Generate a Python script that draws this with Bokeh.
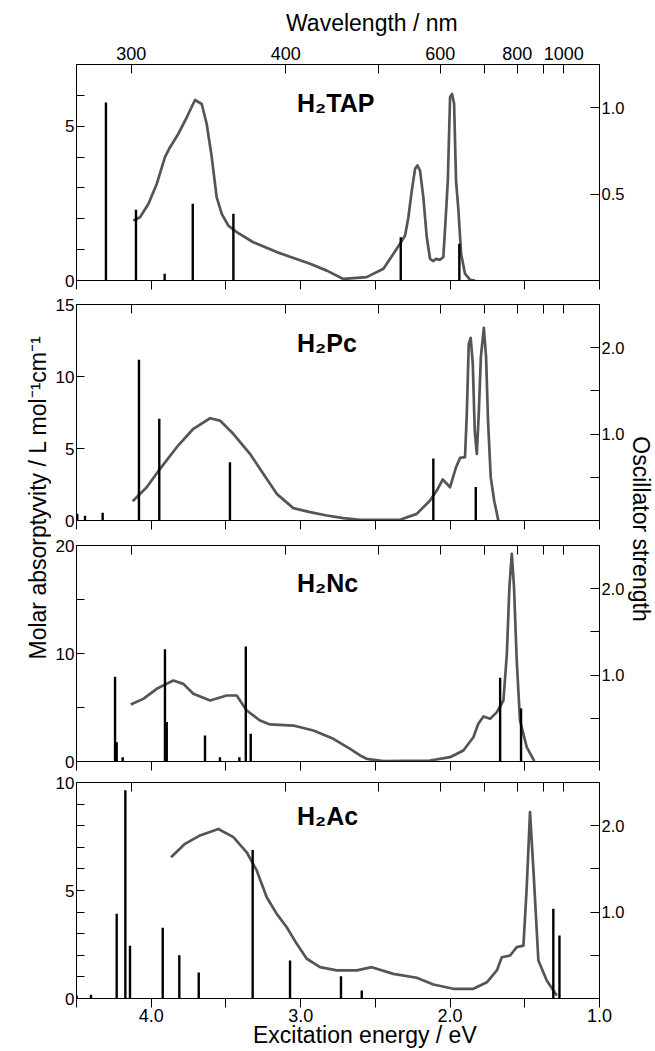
from math import pi
from bokeh.plotting import figure
from bokeh.models import Range1d, LinearAxis, FixedTicker, Label, Title, PrintfTickFormatter
from bokeh.layouts import row, column
from bokeh.embed import file_html
from bokeh.resources import INLINE

FONT = "Liberation Sans"
HC = 1239.84  # eV*nm

# ---------------- axis ticks ----------------
energy_major = [4.0, 3.0, 2.0, 1.0]
energy_minor = [4.5, 3.5, 2.5, 1.5]
wavelength_major = [300, 400, 600, 800, 1000]
wavelength_minor = [500, 700, 900]

# ---------------- H2TAP ----------------
tap_E = [4.120, 4.075, 4.019, 3.963, 3.908, 3.874, 3.819, 3.762, 3.707, 3.662, 3.629,
         3.595, 3.562, 3.528, 3.484, 3.428, 3.317, 3.160, 2.937, 2.825, 2.714, 2.669,
         2.558, 2.446, 2.380, 2.335, 2.301, 2.279, 2.256, 2.234, 2.219, 2.201, 2.179,
         2.156, 2.134, 2.112, 2.094, 2.067, 2.045, 2.029, 2.015, 2.000, 1.987, 1.973,
         1.960, 1.944, 1.926, 1.900, 1.866, 1.833]
tap_eps = [1.94, 2.05, 2.48, 3.13, 4.00, 4.32, 4.75, 5.29, 5.85, 5.72, 5.08,
           4.00, 2.70, 2.16, 1.78, 1.57, 1.24, 0.92, 0.54, 0.32, 0.05, 0.07,
           0.11, 0.38, 0.86, 1.19, 1.46, 2.05, 2.92, 3.62, 3.73, 3.56, 2.70,
           1.40, 0.70, 0.63, 0.70, 0.67, 0.76, 2.05, 3.24, 5.94, 6.05, 5.73,
           3.24, 2.27, 0.86, 0.22, 0.02, 0.0]
tap_bar_E = [4.303, 4.102, 3.910, 3.722, 3.450, 2.330, 1.938]
tap_bar_f = [1.03, 0.41, 0.039, 0.444, 0.386, 0.251, 0.212]

# ---------------- H2Pc ----------------
pc_E = [4.124, 4.030, 3.941, 3.829, 3.718, 3.606, 3.540, 3.451, 3.339, 3.250, 3.160,
        3.049, 2.937, 2.825, 2.714, 2.602, 2.335, 2.223, 2.134, 2.089, 2.049, 2.000,
        1.960, 1.933, 1.900, 1.888, 1.875, 1.862, 1.848, 1.835, 1.821, 1.808, 1.794,
        1.774, 1.759, 1.746, 1.728, 1.705, 1.677]
pc_eps = [1.34, 2.31, 3.59, 5.09, 6.37, 7.10, 6.94, 6.02, 4.63, 3.24, 1.85,
          0.86, 0.58, 0.35, 0.16, 0.05, 0.05, 0.46, 1.39, 2.08, 2.85, 2.31,
          3.70, 4.35, 4.40, 7.41, 12.27, 12.69, 10.88, 6.25, 4.63, 7.41, 11.34,
          13.38, 11.34, 6.94, 3.01, 1.39, 0.0]
pc_bar_E = [4.495, 4.443, 4.325, 4.082, 3.946, 3.473, 2.112, 1.828]
pc_bar_f = [0.078, 0.054, 0.089, 1.86, 1.178, 0.674, 0.717, 0.388]

# ---------------- H2Nc ----------------
nc_E = [4.137, 4.053, 3.963, 3.852, 3.785, 3.718, 3.606, 3.495, 3.428, 3.361, 3.272,
        3.205, 3.049, 2.915, 2.781, 2.669, 2.602, 2.558, 2.446, 2.134, 2.000, 1.911,
        1.844, 1.811, 1.777, 1.732, 1.687, 1.643, 1.620, 1.603, 1.587, 1.572, 1.554,
        1.532, 1.487, 1.436]
nc_eps = [5.28, 5.80, 6.73, 7.50, 7.19, 6.27, 5.65, 6.11, 6.11, 4.72, 3.80,
          3.43, 3.33, 2.87, 2.10, 1.17, 0.56, 0.25, 0.03, 0.09, 0.40, 1.02,
          2.25, 3.49, 4.17, 3.95, 4.57, 5.65, 9.97, 16.14, 19.23, 16.14, 9.35,
          3.80, 1.33, 0.03]
nc_bar_E = [4.242, 4.231, 4.191, 3.908, 3.896, 3.640, 3.540, 3.410, 3.367, 3.334, 1.665, 1.525]
nc_bar_f = [0.98, 0.224, 0.05, 1.30, 0.457, 0.302, 0.05, 0.05, 1.33, 0.32, 0.969, 0.612]

# ---------------- H2Ac ----------------
ac_E = [3.867, 3.774, 3.673, 3.551, 3.450, 3.361, 3.294, 3.227, 3.160, 3.093, 3.026,
        2.959, 2.870, 2.758, 2.624, 2.524, 2.380, 2.223, 2.112, 1.978, 1.844, 1.754,
        1.687, 1.654, 1.598, 1.554, 1.509, 1.487, 1.465, 1.442, 1.409, 1.353, 1.286]
ac_eps = [6.54, 7.16, 7.55, 7.85, 7.47, 6.77, 5.93, 4.69, 3.92, 3.30, 2.53,
          1.84, 1.45, 1.30, 1.30, 1.45, 1.14, 0.96, 0.65, 0.45, 0.45, 0.75,
          1.30, 1.91, 1.99, 2.38, 2.45, 5.15, 8.63, 5.93, 1.76, 0.83, 0.14]
ac_bar_E = [4.499, 4.403, 4.231, 4.173, 4.142, 3.923, 3.812, 3.682, 3.321, 3.071, 2.730,
            2.591, 1.309, 1.268]
ac_bar_f = [0.035, 0.043, 0.98, 2.41, 0.61, 0.82, 0.50, 0.30, 1.72, 0.44, 0.257,
            0.094, 1.04, 0.73]

x_range = Range1d(4.5, 1.0)
FRAME_W, FRAME_H = 523, 216
L_W, R_W = 51, 28
B_L, B_R = 25, 28


def style_axis(ax, size, tin=0, tout=0, standoff=2):
    ax.axis_line_color = "black"
    ax.axis_line_width = 1
    ax.major_tick_line_color = "black"
    ax.minor_tick_line_color = "black"
    ax.major_tick_line_width = 1
    ax.minor_tick_line_width = 1
    ax.major_tick_in = tin
    ax.major_tick_out = tout
    ax.minor_tick_in = tin
    ax.minor_tick_out = tout
    ax.major_label_text_font = FONT
    ax.major_label_text_font_size = size
    ax.major_label_text_color = "black"
    ax.major_label_standoff = standoff


def panel(name, E, eps, bE, bf, eps_max, f_max, eps_major, eps_minor, f_major, f_minor,
          bt, bb, title_dy, first=False, last=False):
    p = figure(x_range=x_range, y_range=Range1d(0, eps_max),
               frame_width=FRAME_W, frame_height=FRAME_H,
               min_border_left=B_L, min_border_right=B_R,
               min_border_top=bt, min_border_bottom=bb,
               toolbar_location=None, output_backend="svg")
    p.extra_y_ranges = {"f": Range1d(0, f_max)}
    p.grid.grid_line_color = None
    p.outline_line_color = "black"
    p.outline_line_width = 1
    p.background_fill_color = "white"
    p.border_fill_color = "white"

    # bottom energy axis
    bx = p.xaxis[0]
    if last:
        bx.ticker = FixedTicker(ticks=energy_major, minor_ticks=energy_minor)
        bx.formatter = PrintfTickFormatter(format="%.1f")
    else:
        bx.ticker = FixedTicker(ticks=[], minor_ticks=energy_major + energy_minor)
    style_axis(bx, "18px", tin=0, tout=9, standoff=1)

    # top wavelength axis (ticks at E = hc / lambda)
    if first:
        tx = LinearAxis(ticker=FixedTicker(ticks=[HC / w for w in wavelength_major],
                                           minor_ticks=[HC / w for w in wavelength_minor]))
        tx.major_label_overrides = {HC / w: str(w) for w in wavelength_major}
    else:
        tx = LinearAxis(ticker=FixedTicker(ticks=[], minor_ticks=[HC / w for w in
                                                                  wavelength_major + wavelength_minor]))
    style_axis(tx, "18px", tin=9, tout=0, standoff=5)
    p.add_layout(tx, "above")

    # left absorptivity axis
    ly = p.yaxis[0]
    ly.ticker = FixedTicker(ticks=eps_major, minor_ticks=eps_minor)
    style_axis(ly, "17px", tin=8, tout=0, standoff=2)

    # right oscillator-strength axis
    ry = LinearAxis(y_range_name="f", ticker=FixedTicker(ticks=f_major, minor_ticks=f_minor),
                    formatter=PrintfTickFormatter(format="%.1f"))
    style_axis(ry, "16.5px", tin=9, tout=0, standoff=2)
    p.add_layout(ry, "right")

    p.line(E, eps, line_color="#555555", line_width=2.7, line_join="round")
    p.segment(x0=bE, y0=[0] * len(bE), x1=bE, y1=bf, y_range_name="f",
              line_color="black", line_width=2.4, line_cap="butt")

    p.add_layout(Label(x=3.024, y=eps_max * (1 - title_dy / FRAME_H), text=name,
                       text_font=FONT, text_font_style="bold", text_font_size="25px",
                       text_color="black", text_align="left", text_baseline="alphabetic"))

    if first:
        p.add_layout(Title(text="Wavelength / nm", align="left", offset=209.5,
                           vertical_align="top", standoff=11,
                           text_font=FONT, text_font_size="23px", text_font_style="normal",
                           text_color="black"), "above")
    if last:
        p.add_layout(Title(text="Excitation energy / eV", align="left", offset=176.5,
                           vertical_align="top", standoff=-5,
                           text_font=FONT, text_font_size="23px", text_font_style="normal",
                           text_color="black"), "below")
    return p


f1 = panel("H\u2082TAP", tap_E, tap_eps, tap_bar_E, tap_bar_f, 7, 1.25,
           [0, 5], [1, 2, 3, 4, 6], [0.5, 1.0], [], bt=64, bb=11, title_dy=38.7, first=True)
f2 = panel("H\u2082Pc", pc_E, pc_eps, pc_bar_E, pc_bar_f, 15, 2.5,
           [0, 5, 10, 15], [], [1.0, 2.0], [0.5, 1.5], bt=13, bb=11, title_dy=38.7)
f3 = panel("H\u2082Nc", nc_E, nc_eps, nc_bar_E, nc_bar_f, 20, 2.5,
           [0, 10, 20], [5, 15], [1.0, 2.0], [0.5, 1.5], bt=14, bb=10, title_dy=37.7)
f4 = panel("H\u2082Ac", ac_E, ac_eps, ac_bar_E, ac_bar_f, 10, 2.5,
           [0, 5, 10], [1, 2, 3, 4, 6, 7, 8, 9], [1.0, 2.0], [0.5, 1.5],
           bt=11, bb=52, title_dy=33, last=True)

TOTAL_H = 291 + 240 + 240 + 279


def side_fig(width):
    s = figure(width=width, height=TOTAL_H, x_range=Range1d(0, width), y_range=Range1d(TOTAL_H, 0),
               x_axis_location=None, y_axis_location=None, toolbar_location=None,
               output_backend="svg", min_border_left=0, min_border_right=0,
               min_border_top=0, min_border_bottom=0)
    s.grid.grid_line_color = None
    s.outline_line_color = None
    s.background_fill_color = "white"
    s.border_fill_color = "white"
    return s


lf = side_fig(L_W)
lf.add_layout(Label(x=37.5, y=497,
                    text="Molar absorptyvity / L mol\u207b\u00b9cm\u207b\u00b9",
                    angle=pi / 2, text_font=FONT, text_font_size="23px", text_color="black",
                    text_align="center", text_baseline="middle"))
rf = side_fig(R_W)
rf.add_layout(Label(x=13.5, y=528.5, text="Oscillator strength",
                    angle=-pi / 2, text_font=FONT, text_font_size="23px", text_color="black",
                    text_align="center", text_baseline="middle"))

layout = row(lf, column(f1, f2, f3, f4), rf)
open("out.html", "w").write(file_html(layout, INLINE))
